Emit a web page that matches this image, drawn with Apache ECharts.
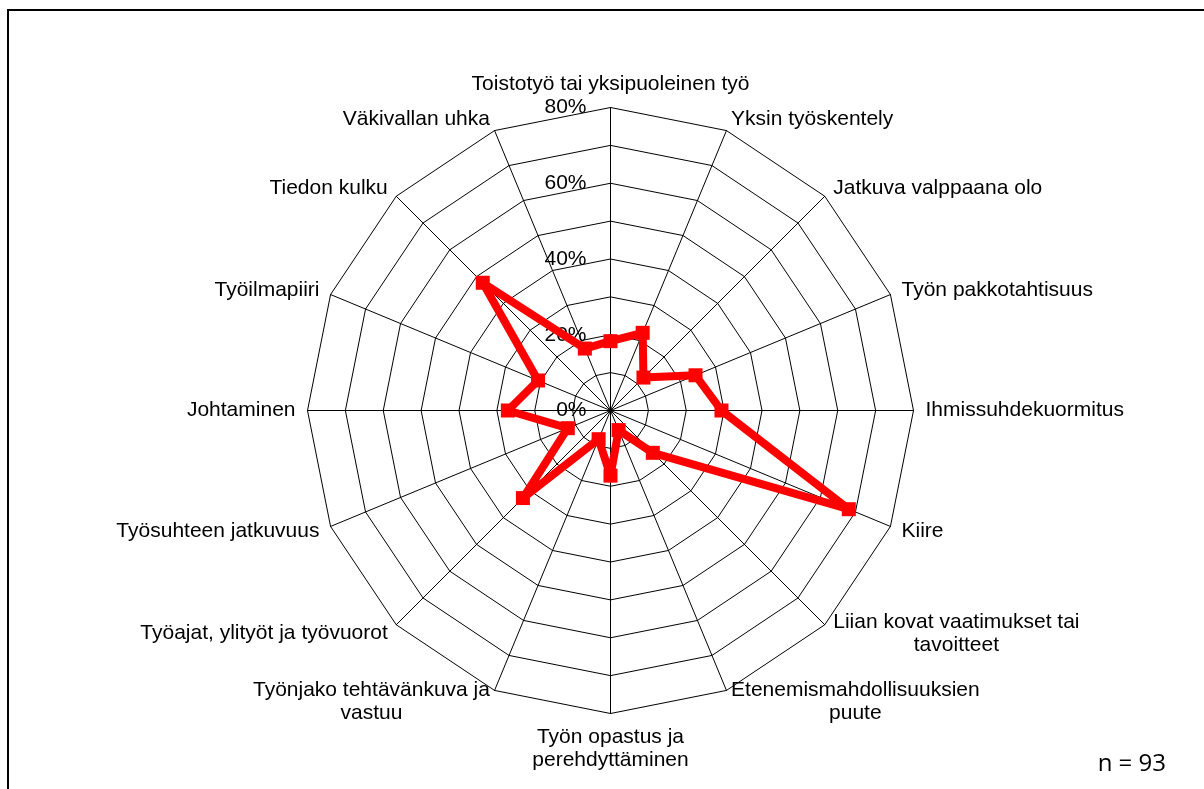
<!DOCTYPE html>
<html>
<head>
<meta charset="utf-8">
<script src="https://cdn.jsdelivr.net/npm/echarts@6/dist/echarts.min.js"></script>
<style>
    html, body { margin: 0; padding: 0; background: #fff; }
    #chart { position: absolute; left: 0; top: 0; width: 1204px; height: 789px; }
    #frame { position: absolute; left: 7px; top: 9px; width: 1300px; height: 900px; border: 2px solid #000; box-sizing: border-box; }
</style>
</head>
<body>
<div id="frame"></div>
<div id="chart"></div>
<script>

// categories, clockwise from the top
var categories = [
    'Toistotyö tai yksipuoleinen työ',
    'Yksin työskentely',
    'Jatkuva valppaana olo',
    'Työn pakkotahtisuus',
    'Ihmissuhdekuormitus',
    'Kiire',
    'Liian kovat vaatimukset tai\ntavoitteet',
    'Etenemismahdollisuuksien\npuute',
    'Työn opastus ja\nperehdyttäminen',
    'Työnjako tehtävänkuva ja\nvastuu',
    'Työajat, ylityöt ja työvuorot',
    'Työsuhteen jatkuvuus',
    'Johtaminen',
    'Työilmapiiri',
    'Tiedon kulku',
    'Väkivallan uhka'
];

// values (%)
var values = [18.3, 22.2, 12.3, 24.3, 29.3, 68.1, 15.8, 5.6, 17.2, 8.2, 32.7, 12.2, 27.1, 20.7, 47.7, 17.7];

// axis
var axisMax = 80;
var axisSteps = 8;
var tickLabelStep = 20;

var note = 'n = 93';

// echarts goes counter-clockwise, so keep the first one and flip the rest
var order = [0];
for (var i = categories.length - 1; i > 0; i--) order.push(i);

var font = 'Liberation Sans, Arial';

var indicator = order.map(function (k, j) {
    var o = { name: categories[k], max: axisMax, min: 0 };
    if (j === 0) o.axisLabel = {
        show: true,
        color: '#000',
        fontSize: 21,
        fontFamily: font,
        margin: 24,
        formatter: function (v) { return (v % tickLabelStep === 0) ? v + '%' : ''; }
    };
    return o;
});

var data = order.map(function (k) { return values[k]; });

var chart = echarts.init(document.getElementById('chart'));

chart.setOption({
    backgroundColor: 'transparent',
    animation: false,
    radar: {
        center: [610.5, 410.5],
        radius: 303,
        startAngle: 90,
        shape: 'polygon',
        splitNumber: axisSteps,
        indicator: indicator,
        axisName: {
            color: '#000',
            fontSize: 21,
            fontFamily: font,
            formatter: function (name) {
                return name.split('\n').map(function (s) { return '{c|' + s + '}'; }).join('\n');
            },
            rich: {
                c: { align: 'center', color: '#000', fontSize: 21, fontFamily: font, lineHeight: 23 }
            }
        },
        nameGap: 12,
        axisLine: { lineStyle: { color: '#000', width: 1 } },
        splitLine: { lineStyle: { color: '#000', width: 1 } },
        splitArea: { show: false },
        axisTick: { show: false },
        axisLabel: { show: false }
    },
    series: [{
        type: 'radar',
        symbol: 'rect',
        symbolSize: 14,
        lineStyle: { color: '#ff0000', width: 8 },
        itemStyle: { color: '#ff0000' },
        data: [{ value: data }]
    }],
    graphic: [{
        type: 'text',
        right: 38,
        bottom: 13,
        style: { text: note, fill: '#000', fontSize: 24, fontFamily: 'Open Sans' }
    }]
});

</script>
</body>
</html>
